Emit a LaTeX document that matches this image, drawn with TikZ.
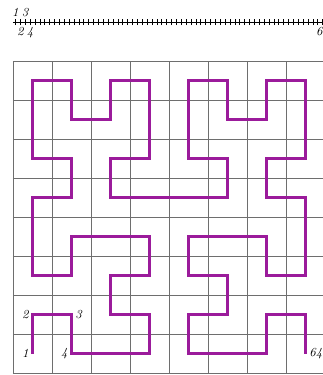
\documentclass[tikz,border=0pt]{standalone}
\usepackage{tikz}
\usetikzlibrary{positioning, calc}
\definecolor{hilbertpurple}{HTML}{9B1B9B}
\definecolor{gridgray}{HTML}{6E6E6E}

\begin{document}
\begin{tikzpicture}[
    gridline/.style={draw=gridgray, line width=0.5pt},
    curve/.style={draw=hilbertpurple, line width=1.6pt},
    rulertick/.style={draw, line width=0.3pt},
    lbl/.style={font=\small\itshape, inner sep=1pt},
]
    \useasboundingbox (-0.333,-0.051) rectangle (7.923,9.564);

    % Ruler: 64 ticks
    \draw[line width=0.4pt] (0,9) -- (8,9);
    \foreach \i in {1,...,64} {
        \coordinate (t\i) at ({(\i-0.5)/8},9);
        \draw[rulertick] ($(t\i)+(0,-0.08)$) -- ($(t\i)+(0,0.08)$);
    }
    \node[lbl, above=0.09cm of t1] (r1) {1};
    \node[lbl, above=0.09cm of t3] (r3) {3};
    \node[lbl, below=0.09cm of t2] (r2) {2};
    \node[lbl, below=0.09cm of t4] (r4) {4};
    \node[lbl, below=0.09cm of t64] (r64) {64};

    % Grid
    \draw[gridline] (0,0) grid (8,8);

    % Hilbert curve points
    \foreach \x/\y [count=\i] in {
        0/0,0/1,1/1,1/0,2/0,3/0,3/1,2/1,2/2,3/2,3/3,2/3,1/3,1/2,0/2,0/3,
        0/4,1/4,1/5,0/5,0/6,0/7,1/7,1/6,2/6,2/7,3/7,3/6,3/5,2/5,2/4,3/4,
        4/4,5/4,5/5,4/5,4/6,4/7,5/7,5/6,6/6,6/7,7/7,7/6,7/5,6/5,6/4,7/4,
        7/3,7/2,6/2,6/3,5/3,4/3,4/2,5/2,5/1,4/1,4/0,5/0,6/0,6/1,7/1,7/0} {
        \coordinate (p\i) at (\x+0.5,\y+0.5);
    }
    \draw[curve] (p1) \foreach \i in {2,...,64} {-- (p\i)};

    % Point labels
    \node[lbl, left=0.06cm of p1] (n1) {1};
    \node[lbl, left=0.06cm of p2] (n2) {2};
    \node[lbl, right=0.06cm of p3] (n3) {3};
    \node[lbl, left=0.06cm of p4] (n4) {4};
    \node[lbl, right=0.06cm of p64] (n64) {64};
\end{tikzpicture}
\end{document}
